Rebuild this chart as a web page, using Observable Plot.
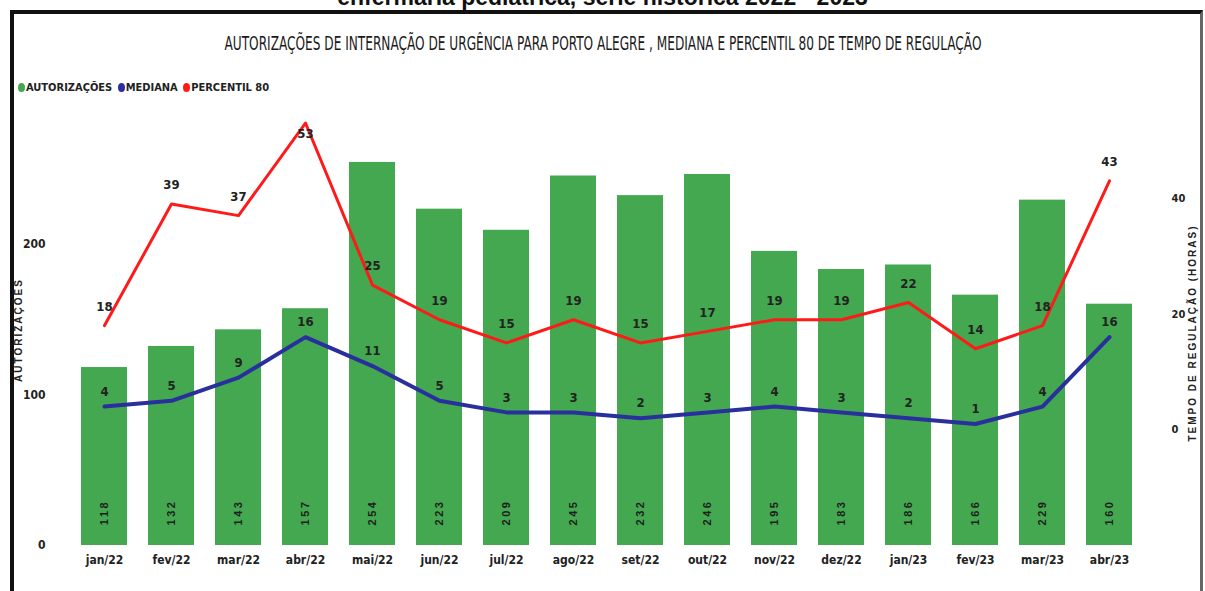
<!DOCTYPE html>
<html><head><meta charset="utf-8">
<script src="https://cdn.jsdelivr.net/npm/d3@7"></script>
<script src="https://cdn.jsdelivr.net/npm/@observablehq/plot@0.6"></script>
<style>
body{margin:0;background:#fff;width:1205px;height:591px;overflow:hidden;position:relative;font-family:"Liberation Sans Narrow","DejaVu Sans Condensed","Liberation Sans",sans-serif;color:#222;}
#cut{position:absolute;left:0;width:1205px;top:-16px;text-align:center;font:bold 23px "Liberation Sans",Arial,sans-serif;color:#111;white-space:nowrap;}
#box{position:absolute;left:10px;top:10px;width:1186px;height:620px;border-left:4px solid #111;border-top:4px solid #111;border-right:3px solid #666;}
#title{position:absolute;top:31px;left:0;width:1205px;text-align:center;white-space:nowrap;}
#title span{display:inline-block;font-size:20px;color:#1a1a1a;}
#legend{position:absolute;top:81px;left:16px;font-size:11px;font-weight:bold;color:#222;white-space:nowrap;}
#legend i{display:inline-block;width:7px;height:9px;border-radius:50%;vertical-align:-1px;margin:0 1px 0 2px;}
.ytitle{position:absolute;font-size:10px;font-weight:bold;letter-spacing:2px;white-space:nowrap;transform:translate(-50%,-50%) rotate(-90deg);color:#222;font-family:"Liberation Sans",sans-serif;}
#chart{position:absolute;left:0;top:60px;}
</style></head>
<body>
<div id="cut">enfermaria pediátrica, série histórica 2022 - 2023</div>
<div id="box"></div>
<div id="title"><span id="tspan">AUTORIZAÇÕES DE INTERNAÇÃO DE URGÊNCIA PARA PORTO ALEGRE , MEDIANA E PERCENTIL 80 DE TEMPO DE REGULAÇÃO</span></div>
<div id="legend"></div>
<div class="ytitle" style="left:18px;top:330px;">AUTORIZAÇÕES</div>
<div class="ytitle" style="left:1192px;top:333px;">TEMPO DE REGULAÇÃO (HORAS)</div>
<div id="chart"></div>
<script>
const months = ["jan/22","fev/22","mar/22","abr/22","mai/22","jun/22","jul/22","ago/22","set/22","out/22","nov/22","dez/22","jan/23","fev/23","mar/23","abr/23"];
const autorizacoes = [118,132,143,157,254,223,209,245,232,246,195,183,186,166,229,160];
const mediana = [4,5,9,16,11,5,3,3,2,3,4,3,2,1,4,16];
const percentil80 = [18,39,37,53,25,19,15,19,15,17,19,19,22,14,18,43];
const leftTicks = [0,100,200];
const rightTicks = [0,20,40];
const seriesNames = ["AUTORIZAÇÕES","MEDIANA","PERCENTIL 80"];
const seriesColors = ["#43a84f","#2a2f9e","#ff1a1a"];

// legend
document.getElementById("legend").innerHTML = seriesNames.map((n,i)=>`<i style="background:${seriesColors[i]}"></i>${n}`).join(" ");

// fit title width
const ts = document.getElementById("tspan");
const w = ts.getBoundingClientRect().width;
ts.style.transform = `scaleX(${757/w})`;

const rows = months.map((m,i)=>({m, a:autorizacoes[i], md:mediana[i], p:percentil80[i]}));
// right axis (hours) mapped onto left axis (count) scale
const yMax = 307, rMin = -20, rMax = 60;
const toLeft = v => (v - rMin) * yMax / (rMax - rMin);
const fromLeft = u => u * (rMax - rMin) / yMax + rMin;
const pMax = d3.max(percentil80);

const chart = Plot.plot({
  width: 1205, height: 531,
  marginLeft: 55, marginRight: 46, marginTop: 22, marginBottom: 46,
  style: {background: "transparent", fontFamily: '"Liberation Sans Narrow","DejaVu Sans Condensed","Liberation Sans",sans-serif', color: "#222"},
  x: {domain: months, padding: 0.306, label: null},
  y: {domain: [0, yMax], label: null},
  marks: [
    Plot.barY(rows, {x: "m", y: "a", fill: seriesColors[0]}),
    Plot.text(rows, {x: "m", y: 0, text: d => String(d.a), rotate: -90, dy: -33, fontSize: 11, fontWeight: "bold", fill: "#1e1e1e", fontFamily: '"Liberation Sans",sans-serif'}),
    Plot.line(rows, {x: "m", y: d => toLeft(d.p), stroke: seriesColors[2], strokeWidth: 3}),
    Plot.line(rows, {x: "m", y: d => toLeft(d.md), stroke: seriesColors[1], strokeWidth: 4}),
    Plot.text(rows.filter(d => d.p !== pMax), {x: "m", y: d => toLeft(d.p), text: d => String(d.p), dy: -19, fontSize: 13, fontWeight: "bold", fill: "#222"}),
    Plot.text(rows.filter(d => d.p === pMax), {x: "m", y: d => toLeft(d.p), text: d => String(d.p), dy: 11, fontSize: 13, fontWeight: "bold", fill: "#222"}),
    Plot.text(rows, {x: "m", y: d => toLeft(d.md), text: d => String(d.md), dy: -15, fontSize: 13, fontWeight: "bold", fill: "#222"}),
    Plot.axisX({tickSize: 0, tickPadding: 10, fontSize: 12, fontWeight: "bold", label: null}),
    Plot.axisY(leftTicks, {anchor: "left", tickSize: 0, tickPadding: 10, fontSize: 12, fontWeight: "bold", label: null}),
    Plot.axisY(rightTicks.map(toLeft), {anchor: "right", tickSize: 0, tickPadding: 12, fontSize: 11, fontWeight: "bold", label: null, tickFormat: u => String(Math.round(fromLeft(u)))})
  ]
});
// spaced-out rotated value labels inside bars
chart.querySelectorAll("text").forEach(t => {
  if ((t.getAttribute("transform") || "").includes("rotate(-90")) t.style.letterSpacing = "2.5px";
});
document.getElementById("chart").appendChild(chart);
</script>
</body></html>
